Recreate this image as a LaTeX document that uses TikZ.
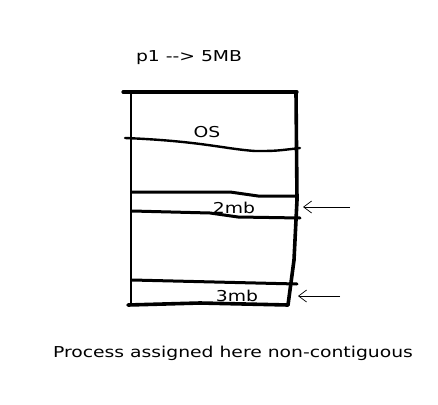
\documentclass[tikz,border=0pt]{standalone}
\usepackage{fontspec}
\newfontfamily\sketchfont[FakeStretch=1.25]{DejaVu Sans}
\usetikzlibrary{arrows.meta}
\tikzset{
  outline/.style={line width=3.2pt, line cap=round, line join=round},
  divider/.style={line width=2.4pt, line cap=round, line join=round},
  label/.style={font=\sketchfont\fontsize{15}{18}\selectfont, inner sep=0pt},
  pointer/.style={-{Straight Barb[length=8pt,width=12pt]}, line width=0.7pt}
}

\begin{document}
\begin{tikzpicture}[x=1pt,y=-1pt]
\useasboundingbox (0,0) rectangle (438,404);

% memory block
\draw[outline] (123,92) -- (297,92);
\draw[outline, line width=2.2pt] (131,93) -- (131,303);
\draw[outline, line width=3.6pt] (296,93) -- (297,200) -- (294,260) -- (288,305);
\draw[outline, line width=3.6pt] (128,305) -- (200,303) -- (288,305);

% partitions
\draw[divider] (125,138) .. controls (200,141) and (225,149) .. (255,151)
  .. controls (275,151) .. (300,148);
\draw[divider, line width=3pt] (132,192) -- (230,192) -- (258,196) -- (296,196);
\draw[divider, line width=3pt] (132,211) -- (210,213) -- (238,217) -- (300,218);
\draw[divider, line width=3pt] (132,280) -- (297,284);

\node[label] (title) at (189,58) {p1 --> 5MB};
\node[label] (os) at (207,132) {OS};
\node[label] (hole1) at (234,208) {2mb};
\node[label] (hole2) at (237,296) {3mb};
\node[label] (caption) at (233,353) {Process assigned here non-contiguous};

\coordinate (tail1) at (350,207);
\coordinate (head1) at (303,207);
\coordinate (tail2) at (340,296);
\coordinate (head2) at (298,296);
\draw[pointer] (tail1) -- (head1);
\draw[pointer] (tail2) -- (head2);
\end{tikzpicture}
\end{document}
